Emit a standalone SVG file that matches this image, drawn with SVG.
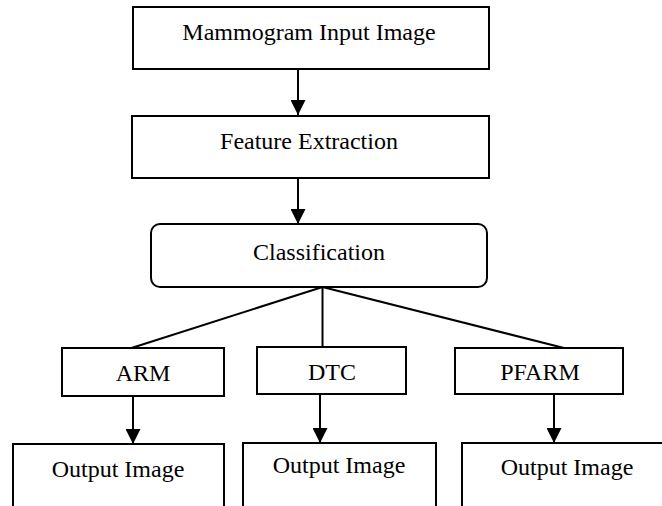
<svg xmlns="http://www.w3.org/2000/svg" width="662" height="506" viewBox="0 0 662 506">
  <style>
    .box { fill: #fff; stroke: #000; stroke-width: 2; }
    .lbl { font-family: "Liberation Serif", "Times New Roman", serif; font-size: 24px; fill: #000; text-anchor: middle; }
    .edge { fill: none; stroke: #000; stroke-width: 2; }
  </style>
  <defs>
    <marker id="arrow" viewBox="0 0 15 15" refX="15" refY="7.5" markerWidth="15" markerHeight="15" markerUnits="userSpaceOnUse" orient="auto">
      <path d="M0,0 L15,7.5 L0,15 Z" fill="#000"/>
    </marker>
  </defs>

  <rect width="662" height="506" fill="#fff"/>

  <g id="connectors">
    <line class="edge" x1="298" y1="69" x2="298" y2="115" marker-end="url(#arrow)"/>
    <line class="edge" x1="298" y1="178" x2="298" y2="224" marker-end="url(#arrow)"/>
    <line class="edge" x1="322.5" y1="287" x2="131.5" y2="348"/>
    <line class="edge" x1="322.5" y1="287" x2="322.5" y2="347"/>
    <line class="edge" x1="322.5" y1="287" x2="564" y2="348"/>
    <line class="edge" x1="133" y1="396" x2="133" y2="444" marker-end="url(#arrow)"/>
    <line class="edge" x1="320" y1="394" x2="320" y2="443" marker-end="url(#arrow)"/>
    <line class="edge" x1="554" y1="394" x2="554" y2="443" marker-end="url(#arrow)"/>
  </g>

  <g id="input">
    <rect class="box" x="133" y="7" width="356" height="62"/>
    <text class="lbl" x="309" y="40">Mammogram Input Image</text>
  </g>

  <g id="features">
    <rect class="box" x="132" y="116" width="357" height="62"/>
    <text class="lbl" x="309" y="149">Feature Extraction</text>
  </g>

  <g id="classification">
    <rect class="box" x="151" y="224" width="336" height="63" rx="9" ry="9"/>
    <text class="lbl" x="319" y="260">Classification</text>
  </g>

  <g id="arm">
    <rect class="box" x="62" y="348" width="162" height="48"/>
    <text class="lbl" x="143" y="381">ARM</text>
  </g>

  <g id="dtc">
    <rect class="box" x="257" y="347" width="149" height="47"/>
    <text class="lbl" x="332" y="380">DTC</text>
  </g>

  <g id="pfarm">
    <rect class="box" x="455" y="348" width="168" height="46"/>
    <text class="lbl" x="540" y="380">PFARM</text>
  </g>

  <g id="output-arm">
    <rect class="box" x="13" y="444" width="211" height="80"/>
    <text class="lbl" x="118" y="477">Output Image</text>
  </g>

  <g id="output-dtc">
    <rect class="box" x="243" y="443" width="193" height="80"/>
    <text class="lbl" x="339" y="473">Output Image</text>
  </g>

  <g id="output-pfarm">
    <rect class="box" x="462" y="443" width="220" height="80"/>
    <text class="lbl" x="567" y="475">Output Image</text>
  </g>
</svg>
